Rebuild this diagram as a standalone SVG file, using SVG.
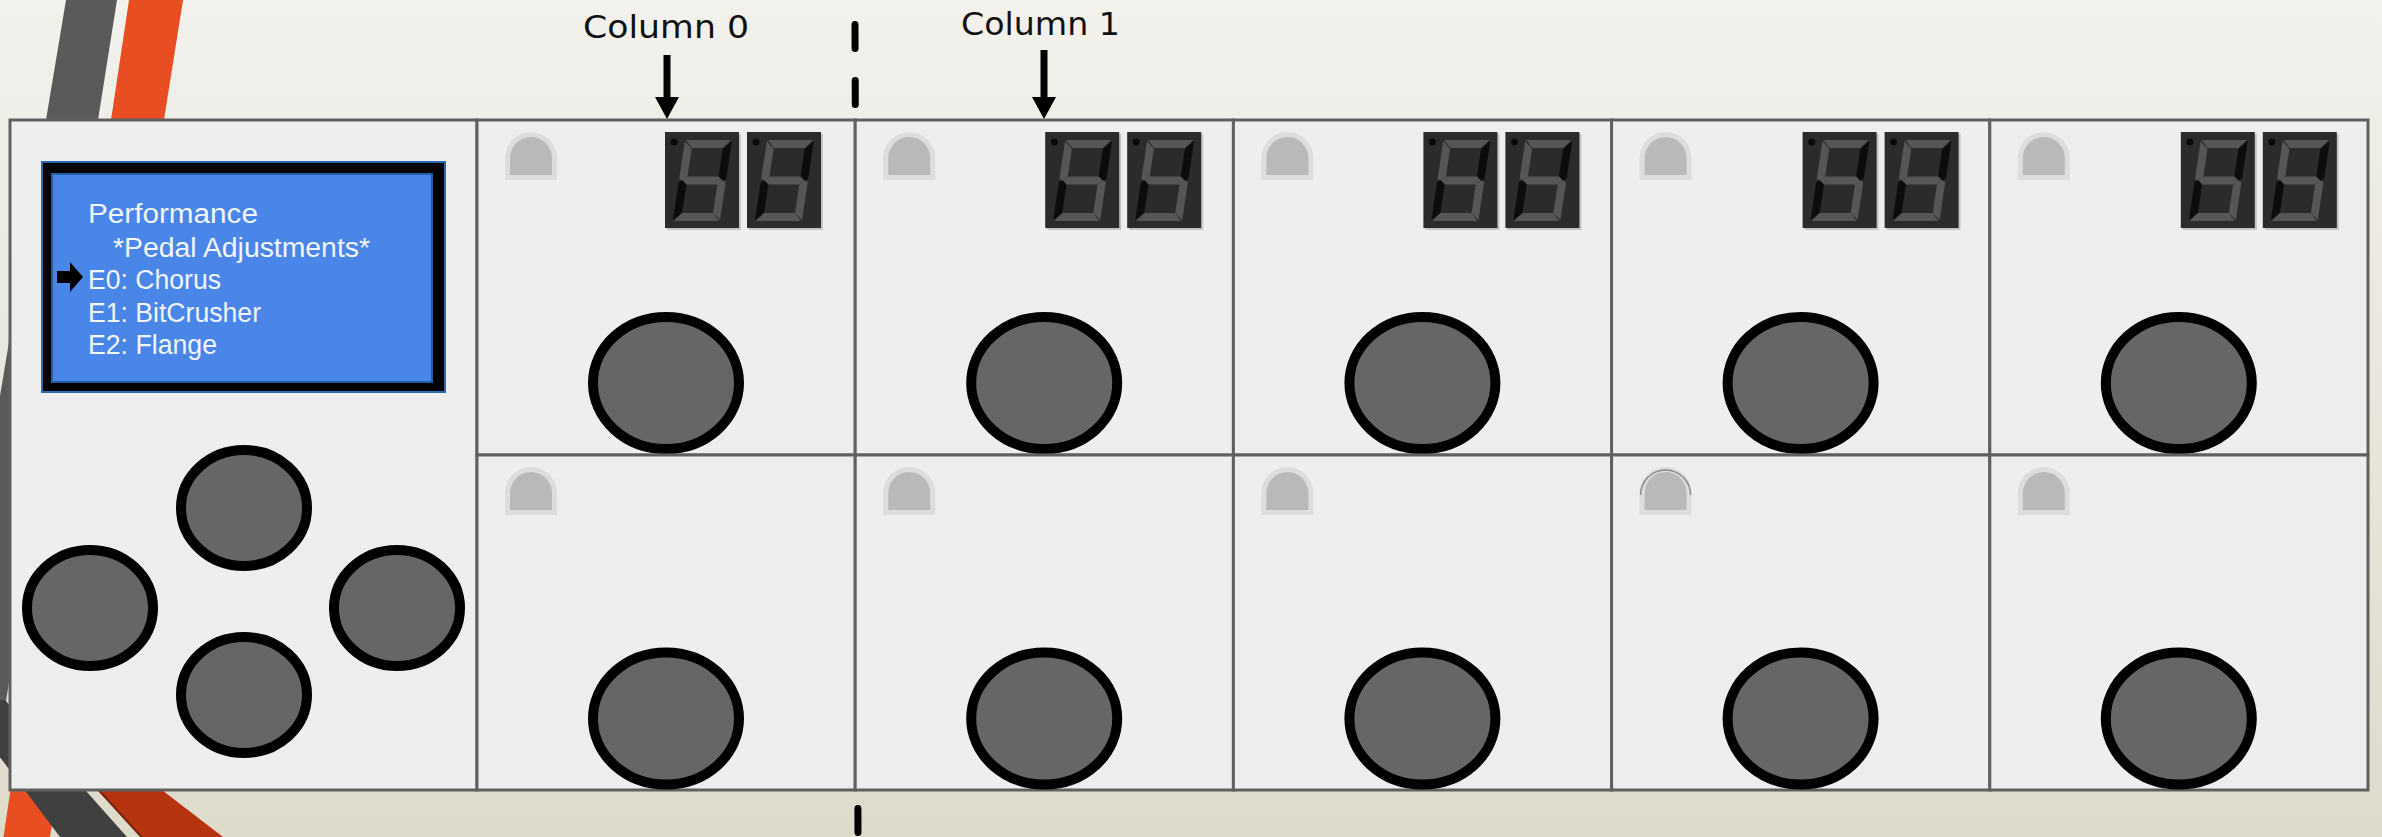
<svg xmlns="http://www.w3.org/2000/svg" xmlns:xlink="http://www.w3.org/1999/xlink" width="2382" height="837" viewBox="0 0 2382 837">
<style>
.cell{fill:#eeeeee;stroke:#606060;stroke-width:3}
.btn{fill:#666666;stroke:#000000;stroke-width:10}
.lcd{font-family:"Liberation Sans",Arial,sans-serif;font-size:27px;fill:#f2f5fc}
.lbl{font-family:"DejaVu Sans",sans-serif;font-size:32px;fill:#111111}
.on{fill:#565656}
.off{fill:#0c0c0c}
.conn{stroke:#000000;stroke-width:7;fill:none}
</style>
<defs>
<linearGradient id="bg" x1="0" y1="0" x2="0" y2="1">
<stop offset="0" stop-color="#f2f1ec"/>
<stop offset="1" stop-color="#dedbcb"/>
</linearGradient>
<marker id="ah" markerUnits="userSpaceOnUse" markerWidth="22" markerHeight="24" refX="0" refY="12" orient="auto" viewBox="0 0 22 24">
<path d="M0,0 L22,12 L0,24 Z" fill="#000000"/>
</marker>
<g id="digit">
<rect x="2" y="2" width="74" height="96" fill="#9a9a9a" opacity="0.5"/>
<rect x="0" y="0" width="74" height="96" fill="#2b2b2b"/>
<circle cx="9" cy="10" r="3.5" fill="#0a0a0a"/>
<g transform="matrix(1,0,-0.15,1,13.2,0)">
<polygon class="on" points="9,8 54,8 47,16 16,16"/>
<polygon class="on" points="8,9 8,47 11.5,48.5 16,44.5 16,17"/>
<polygon class="off" points="55,9 55,47 51.5,48.5 47,44.5 47,17"/>
<polygon class="on" points="11.5,48.5 16,44.5 47,44.5 51.5,48.5 47,52.5 16,52.5"/>
<polygon class="off" points="8,50 11.5,48.5 16,52.5 16,81 8,88"/>
<polygon class="on" points="55,50 51.5,48.5 47,52.5 47,81 55,88"/>
<polygon class="on" points="9,89 54,89 47,81 16,81"/>
</g>
</g>
<g id="led">
<path d="M0,48 V26 A26,26 0 0 1 52,26 V48 Z" fill="#dddddd"/>
<path d="M5,43 V26 A21,21 0 0 1 47,26 V43 Z" fill="#b9b9b9"/>
</g>
</defs>

<g id="background">
<rect x="0" y="0" width="2382" height="837" fill="url(#bg)"/>
<polygon points="66,0 117,0 0,739 0,396" fill="#5a5a5a"/>
<polygon points="129,0 183,0 40,900 0,900 0,860" fill="#e84e22"/>
<polygon points="-43,700 5,700 127,837 60,837" fill="#404040"/>
<polygon points="15,700 40,700 157,837 140,837" fill="#7a2410"/>
<polygon points="18,700 45,700 223,837 143,837" fill="#b5330f"/>
</g>

<g id="connectors">
<line class="conn" x1="855" y1="24.5" x2="858" y2="837" stroke-linecap="round" stroke-dasharray="24 32"/>
<line class="conn" x1="667" y1="55" x2="667" y2="97" marker-end="url(#ah)"/>
<line class="conn" x1="1044" y1="50" x2="1044" y2="97" marker-end="url(#ah)"/>
</g>

<g id="labels">
<text class="lbl" x="583" y="38" textLength="166" lengthAdjust="spacingAndGlyphs">Column 0</text>
<text class="lbl" x="961" y="35" textLength="159" lengthAdjust="spacingAndGlyphs">Column 1</text>
</g>

<g id="control-panel">
<rect class="cell" x="10" y="120" width="467" height="670"/>
<rect x="42" y="162" width="403" height="230" fill="#000000" stroke="#2a6ab0" stroke-width="2"/>
<rect x="52" y="174" width="380" height="208" fill="#4a86e8" stroke="#1d5fa6" stroke-width="2"/>
<text class="lcd" x="88" y="223" textLength="170" lengthAdjust="spacingAndGlyphs">Performance</text>
<text class="lcd" x="113" y="257" textLength="257" lengthAdjust="spacingAndGlyphs">*Pedal Adjustments*</text>
<text class="lcd" x="88" y="289" textLength="133" lengthAdjust="spacingAndGlyphs">E0: Chorus</text>
<text class="lcd" x="88" y="322" textLength="173" lengthAdjust="spacingAndGlyphs">E1: BitCrusher</text>
<text class="lcd" x="88" y="354" textLength="129" lengthAdjust="spacingAndGlyphs">E2: Flange</text>
<polygon points="57,271 70,271 70,262 83,277 70,292 70,283 57,283" fill="#000000"/>
<ellipse class="btn" cx="244" cy="508" rx="63" ry="58"/>
<ellipse class="btn" cx="90" cy="608" rx="63" ry="58"/>
<ellipse class="btn" cx="397" cy="608" rx="63" ry="58"/>
<ellipse class="btn" cx="244" cy="695" rx="63" ry="58"/>
</g>

<g id="cell-top-0" transform="translate(477,120)">
<rect class="cell" x="0" y="0" width="378.2" height="335"/>
<use xlink:href="#led" x="28" y="12"/>
<use xlink:href="#digit" x="188" y="12"/>
<use xlink:href="#digit" x="270" y="12"/>
<ellipse class="btn" cx="189" cy="263" rx="73" ry="66"/>
</g>
<g id="cell-top-1" transform="translate(855.2,120)">
<rect class="cell" x="0" y="0" width="378.2" height="335"/>
<use xlink:href="#led" x="28" y="12"/>
<use xlink:href="#digit" x="190" y="12"/>
<use xlink:href="#digit" x="272" y="12"/>
<ellipse class="btn" cx="189" cy="263" rx="73" ry="66"/>
</g>
<g id="cell-top-2" transform="translate(1233.4,120)">
<rect class="cell" x="0" y="0" width="378.2" height="335"/>
<use xlink:href="#led" x="28" y="12"/>
<use xlink:href="#digit" x="190" y="12"/>
<use xlink:href="#digit" x="272" y="12"/>
<ellipse class="btn" cx="189" cy="263" rx="73" ry="66"/>
</g>
<g id="cell-top-3" transform="translate(1611.6,120)">
<rect class="cell" x="0" y="0" width="378.2" height="335"/>
<use xlink:href="#led" x="28" y="12"/>
<use xlink:href="#digit" x="191" y="12"/>
<use xlink:href="#digit" x="273" y="12"/>
<ellipse class="btn" cx="189" cy="263" rx="73" ry="66"/>
</g>
<g id="cell-top-4" transform="translate(1989.8,120)">
<rect class="cell" x="0" y="0" width="378.2" height="335"/>
<use xlink:href="#led" x="28" y="12"/>
<use xlink:href="#digit" x="191" y="12"/>
<use xlink:href="#digit" x="273" y="12"/>
<ellipse class="btn" cx="189" cy="263" rx="73" ry="66"/>
</g>

<g id="cell-bottom-0" transform="translate(477,455)">
<rect class="cell" x="0" y="0" width="378.2" height="335"/>
<use xlink:href="#led" x="28" y="12"/>
<ellipse class="btn" cx="189" cy="263.5" rx="73" ry="66"/>
</g>
<g id="cell-bottom-1" transform="translate(855.2,455)">
<rect class="cell" x="0" y="0" width="378.2" height="335"/>
<use xlink:href="#led" x="28" y="12"/>
<ellipse class="btn" cx="189" cy="263.5" rx="73" ry="66"/>
</g>
<g id="cell-bottom-2" transform="translate(1233.4,455)">
<rect class="cell" x="0" y="0" width="378.2" height="335"/>
<use xlink:href="#led" x="28" y="12"/>
<ellipse class="btn" cx="189" cy="263.5" rx="73" ry="66"/>
</g>
<g id="cell-bottom-3" transform="translate(1611.6,455)">
<rect class="cell" x="0" y="0" width="378.2" height="335"/>
<use xlink:href="#led" x="28" y="12"/>
<path d="M29,40 A25,25 0 0 1 79,40" fill="none" stroke="#8a8a8a" stroke-width="1.5"/>
<ellipse class="btn" cx="189" cy="263.5" rx="73" ry="66"/>
</g>
<g id="cell-bottom-4" transform="translate(1989.8,455)">
<rect class="cell" x="0" y="0" width="378.2" height="335"/>
<use xlink:href="#led" x="28" y="12"/>
<ellipse class="btn" cx="189" cy="263.5" rx="73" ry="66"/>
</g>
</svg>
